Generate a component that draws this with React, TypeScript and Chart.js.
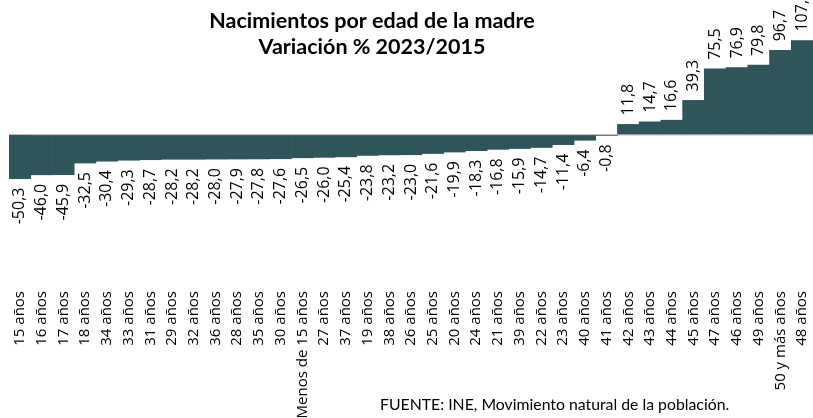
import React, { useEffect, useRef } from "react";
import { Chart, registerables } from "chart.js";

Chart.register(...registerables);

const categories: string[] = [
  "15 años", "16 años", "17 años", "18 años", "34 años", "33 años", "31 años",
  "29 años", "32 años", "36 años", "28 años", "35 años", "30 años",
  "Menos de 15 años", "27 años", "37 años", "19 años", "38 años", "26 años",
  "25 años", "20 años", "24 años", "21 años", "39 años", "22 años", "23 años",
  "40 años", "41 años", "42 años", "43 años", "44 años", "45 años", "47 años",
  "46 años", "49 años", "50 y más años", "48 años",
];

const variation: number[] = [
  -50.3, -46.0, -45.9, -32.5, -30.4, -29.3, -28.7, -28.2, -28.2, -28.0, -27.9,
  -27.8, -27.6, -26.5, -26.0, -25.4, -23.8, -23.2, -23.0, -21.6, -19.9, -18.3,
  -16.8, -15.9, -14.7, -11.4, -6.4, -0.8, 11.8, 14.7, 16.6, 39.3, 75.5, 76.9,
  79.8, 96.7, 107.9,
];

const titleLines: string[] = ["Nacimientos por edad de la madre", "Variación % 2023/2015"];
const sourceText = "FUENTE: INE, Movimiento natural de la población.";

const BAR_COLOR = "#2e5559";
const LABEL_FONT = "Open Sans";

const fmt = (v: number) => v.toFixed(1).replace(".", ",");

const overlayPlugin = {
  id: "overlay",
  afterDatasetsDraw(chart: any) {
    const ctx = chart.ctx;
    const meta = chart.getDatasetMeta(0);
    ctx.save();
    ctx.fillStyle = "#000";
    ctx.font = `16px "${LABEL_FONT}"`;
    ctx.textBaseline = "middle";
    meta.data.forEach((bar: any, i: number) => {
      const v = variation[i];
      const off = 9;
      ctx.save();
      if (v >= 0) {
        ctx.translate(bar.x, bar.y - off);
        ctx.rotate(-Math.PI / 2);
        ctx.textAlign = "left";
      } else {
        ctx.translate(bar.x, bar.y + off);
        ctx.rotate(-Math.PI / 2);
        ctx.textAlign = "right";
      }
      ctx.fillText(fmt(v), 0, 0);
      ctx.restore();
    });
    ctx.restore();
  },
  afterDraw(chart: any) {
    const ctx = chart.ctx;
    ctx.save();
    ctx.fillStyle = "#000";
    ctx.textAlign = "center";
    ctx.textBaseline = "middle";
    ctx.font = `bold 21.5px Lato`;
    ctx.fillText(titleLines[0], 372, 21);
    ctx.fillText(titleLines[1], 372, 47);
    ctx.textAlign = "left";
    ctx.font = `15.8px Lato`;
    ctx.fillText(sourceText, 380, 405);
    ctx.restore();
  },
};

export default function App() {
  const canvasRef = useRef<HTMLCanvasElement | null>(null);

  useEffect(() => {
    if (!canvasRef.current) return;
    const chart = new Chart(canvasRef.current, {
      type: "bar",
      data: {
        labels: categories,
        datasets: [
          {
            data: variation,
            backgroundColor: BAR_COLOR,
            borderWidth: 0,
            barPercentage: 1,
            categoryPercentage: 1,
          },
        ],
      },
      options: {
        animation: false,
        responsive: true,
        maintainAspectRatio: false,
        layout: { padding: { left: 9, right: 0, top: 30, bottom: 0 } },
        plugins: {
          legend: { display: false },
          title: { display: false },
          tooltip: { enabled: false },
        },
        scales: {
          x: {
            grid: { display: false },
            border: { display: false },
            ticks: {
              minRotation: 90,
              maxRotation: 90,
              autoSkip: false,
              padding: 0,
              color: "#000",
              font: { family: LABEL_FONT, size: 15 },
            },
            afterFit: (s: any) => {
              s.height = 135;
              s.paddingLeft = 0;
              s.paddingRight = 0;
            },
          },
          y: {
            min: -170,
            max: 120,
            z: 1,
            ticks: { display: false, stepSize: 10 },
            border: { display: false },
            grid: {
              drawTicks: false,
              color: (c: any) => (c.tick && c.tick.value === 0 ? "#c0c0c0" : "rgba(0,0,0,0)"),
              lineWidth: 1.5,
            },
          },
        },
      },
      plugins: [overlayPlugin],
    });
    return () => chart.destroy();
  }, []);

  return (
    <div style={{ position: "fixed", left: 0, top: 0, width: 813, height: 418, background: "#fff" }}>
      <canvas ref={canvasRef} />
    </div>
  );
}
